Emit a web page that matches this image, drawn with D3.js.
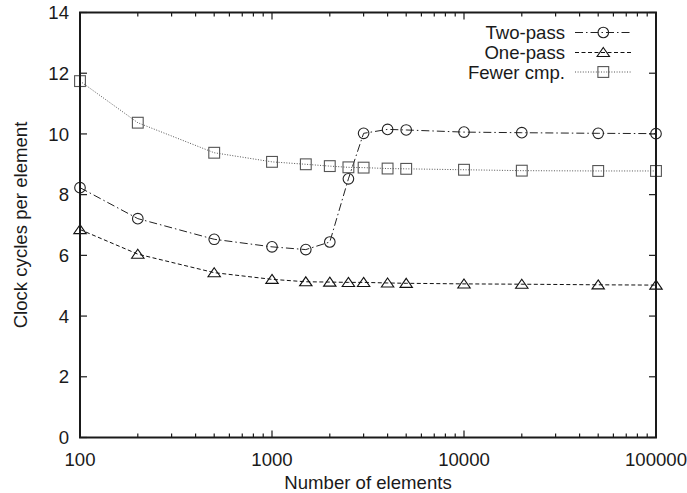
<!DOCTYPE html>
<html>
<head>
<meta charset="utf-8">
<script src="https://cdn.jsdelivr.net/npm/d3@7"></script>
<style>
  html, body { margin: 0; padding: 0; background: #fff; }
  svg text { font-family: "Liberation Sans", Arial, sans-serif; fill: #1a1a1a; }
</style>
</head>
<body>
<svg id="chart" width="687" height="493"></svg>
<script>
// Problem sizes (number of elements)
const sizes = [100, 200, 500, 1000, 1500, 2000, 2500, 3000, 4000, 5000, 10000, 20000, 50000, 100000];

// Clock cycles per element for each variant
const twoPass   = [8.23, 7.21, 6.53, 6.28, 6.19, 6.44, 8.52, 10.02, 10.15, 10.13, 10.06, 10.04, 10.02, 10.01];
const onePass   = [6.85, 6.04, 5.43, 5.21, 5.13, 5.12, 5.11, 5.11, 5.09, 5.08, 5.06, 5.05, 5.03, 5.02];
const fewerCmp  = [11.74, 10.37, 9.38, 9.08, 9.00, 8.94, 8.90, 8.89, 8.86, 8.85, 8.82, 8.79, 8.78, 8.78];

const seriesNames = ["Two-pass", "One-pass", "Fewer cmp."];
const xTickValues = [100, 1000, 10000, 100000];
const yTickValues = [0, 2, 4, 6, 8, 10, 12, 14];

const series = [
  { name: seriesNames[0], values: twoPass,  symbol: "circle",   dash: "8,3,1.5,3", color: "#222", markColor: "#222" },
  { name: seriesNames[1], values: onePass,  symbol: "triangle", dash: "4,2.5",     color: "#111", markColor: "#111" },
  { name: seriesNames[2], values: fewerCmp, symbol: "square",   dash: "1,1.6",     color: "#555", markColor: "#555" }
];

const FONT = 18.6;
const svg = d3.select("#chart");
const margin = { left: 80, right: 31, top: 12.5, bottom: 55.5 };
const W = 687, H = 493;
const x = d3.scaleLog().domain([100, 100000]).range([margin.left, W - margin.right]);
const y = d3.scaleLinear().domain([0, 14]).range([H - margin.bottom, margin.top]);

const x0 = x.range()[0], x1 = x.range()[1];
const y0 = y.range()[0], y1 = y.range()[1];

// Marker shapes
function marker(g, symbol, cx, cy, color) {
  if (symbol === "circle") {
    g.append("circle").attr("cx", cx).attr("cy", cy).attr("r", 5.3)
      .attr("fill", "none").attr("stroke", color).attr("stroke-width", 1.1);
  } else if (symbol === "triangle") {
    const w = 6.2, h = 9;
    g.append("path")
      .attr("d", `M${cx},${cy - h * 0.55} L${cx + w},${cy + h * 0.45} L${cx - w},${cy + h * 0.45} Z`)
      .attr("fill", "none").attr("stroke", color).attr("stroke-width", 1.1);
  } else {
    const s = 5.4;
    g.append("rect").attr("x", cx - s).attr("y", cy - s).attr("width", 2 * s).attr("height", 2 * s)
      .attr("fill", "none").attr("stroke", color).attr("stroke-width", 1.1);
  }
}

// Series lines and markers
const line = d3.line().x(d => x(d[0])).y(d => y(d[1]));
series.forEach(s => {
  const pts = sizes.map((n, i) => [n, s.values[i]]);
  svg.append("path").datum(pts).attr("d", line)
    .attr("fill", "none").attr("stroke", s.color).attr("stroke-width", 1)
    .attr("stroke-dasharray", s.dash);
  const g = svg.append("g");
  pts.forEach(p => marker(g, s.symbol, x(p[0]), y(p[1]), s.markColor));
});

// Ticks (inward, on all four sides)
const tickG = svg.append("g").attr("stroke", "#1a1a1a").attr("stroke-width", 1.2);
yTickValues.forEach(v => {
  tickG.append("line").attr("x1", x0).attr("x2", x0 + 7).attr("y1", y(v)).attr("y2", y(v));
  tickG.append("line").attr("x1", x1).attr("x2", x1 - 7).attr("y1", y(v)).attr("y2", y(v));
});
const minorX = [];
for (let dec = 100; dec < 100000; dec *= 10) {
  for (let k = 2; k <= 9; k++) minorX.push(dec * k);
}
xTickValues.forEach(v => {
  tickG.append("line").attr("x1", x(v)).attr("x2", x(v)).attr("y1", y0).attr("y2", y0 - 7);
  tickG.append("line").attr("x1", x(v)).attr("x2", x(v)).attr("y1", y1).attr("y2", y1 + 7);
});
minorX.forEach(v => {
  tickG.append("line").attr("x1", x(v)).attr("x2", x(v)).attr("y1", y0).attr("y2", y0 - 4);
  tickG.append("line").attr("x1", x(v)).attr("x2", x(v)).attr("y1", y1).attr("y2", y1 + 4);
});

// Frame
svg.append("rect").attr("x", x0).attr("y", y1).attr("width", x1 - x0).attr("height", y0 - y1)
  .attr("fill", "none").attr("stroke", "#1a1a1a").attr("stroke-width", 2);

// Tick labels
svg.append("g").selectAll("text").data(yTickValues).join("text")
  .attr("x", x0 - 11).attr("y", d => y(d)).attr("dy", "0.36em")
  .attr("text-anchor", "end").attr("font-size", FONT).text(d => d);
svg.append("g").selectAll("text").data(xTickValues).join("text")
  .attr("x", d => x(d)).attr("y", 466)
  .attr("text-anchor", "middle").attr("font-size", FONT).text(d => d);

// Axis titles
svg.append("text").attr("x", (x0 + x1) / 2).attr("y", 489)
  .attr("text-anchor", "middle").attr("font-size", FONT).text("Number of elements");
svg.append("text").attr("transform", `translate(26.5,${(y0 + y1) / 2}) rotate(-90)`)
  .attr("text-anchor", "middle").attr("font-size", FONT).text("Clock cycles per element");

// Legend
const legRows = [32.5, 52.5, 72];
series.forEach((s, i) => {
  const ly = legRows[i];
  svg.append("text").attr("x", 565).attr("y", ly).attr("dy", "0.36em")
    .attr("text-anchor", "end").attr("font-size", FONT).text(s.name);
  svg.append("line").attr("x1", 575).attr("x2", 631).attr("y1", ly).attr("y2", ly)
    .attr("stroke", s.color).attr("stroke-width", 1).attr("stroke-dasharray", s.dash);
  marker(svg.append("g"), s.symbol, 603.3, ly, s.markColor);
});
</script>
</body>
</html>
